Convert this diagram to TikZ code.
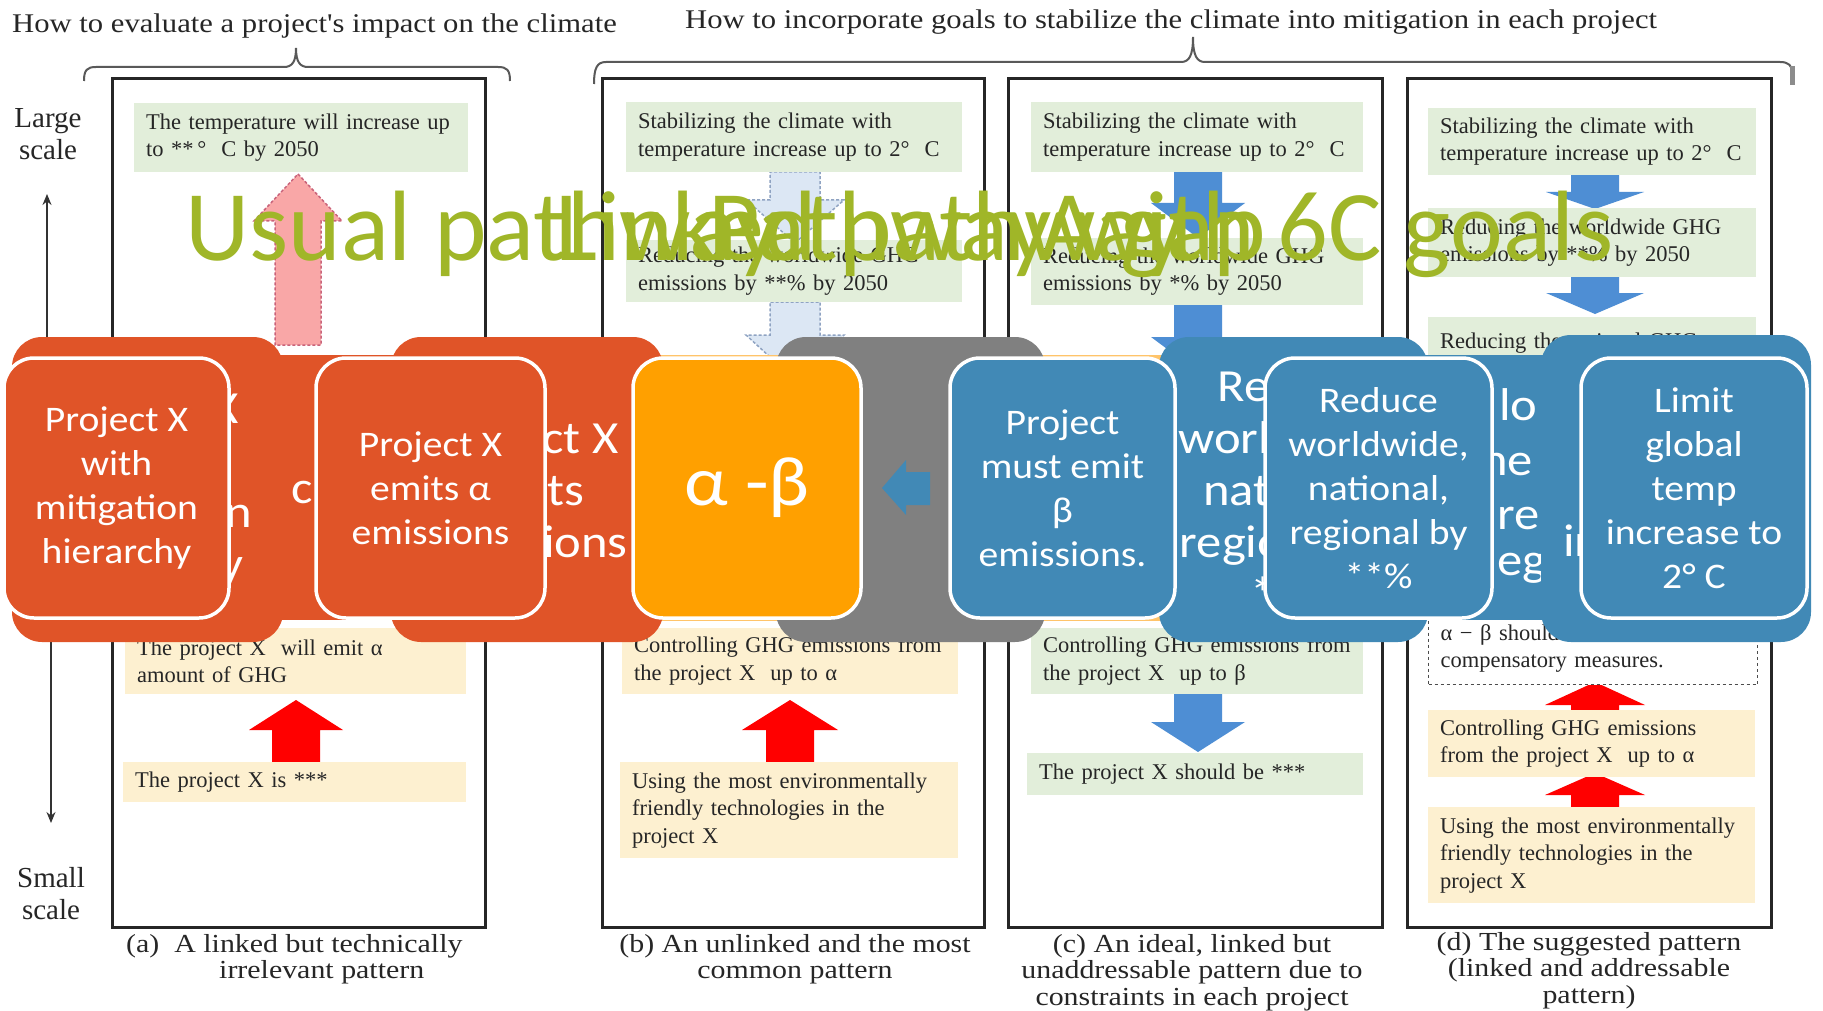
\documentclass[tikz,border=0pt]{standalone}
\usepackage{fontspec}
\setmainfont{Liberation Serif}
\newfontfamily\capfont[FakeStretch=1.15]{Liberation Serif}
\newfontfamily\headfont[FakeStretch=1.135]{Liberation Serif}
\newfontfamily\sa[FakeStretch=1.1]{Carlito}
\newfontfamily\ttlfont{Carlito}
\usetikzlibrary{arrows.meta}

\definecolor{pgreen}{HTML}{E2EEDA}
\definecolor{pyellow}{HTML}{FDF0D0}
\definecolor{sorange}{HTML}{E05428}
\definecolor{samber}{HTML}{FFA000}
\definecolor{sgray}{HTML}{808080}
\definecolor{sblue}{HTML}{4189B6}
\definecolor{ablue}{HTML}{4E8ED4}
\definecolor{ared}{HTML}{FF0000}
\definecolor{apink}{HTML}{F9A7A7}
\definecolor{apinkline}{HTML}{C9637A}
\definecolor{alblue}{HTML}{DCE7F4}
\definecolor{alblueline}{HTML}{8FA3C2}
\definecolor{ttlgreen}{HTML}{A0B628}
\definecolor{inktext}{HTML}{262626}
\definecolor{bandorange}{HTML}{FFC46A}

% block arrow: style, centre x, tip y, head-base y, tail y, half head width, half shaft width
\newcommand{\blkarrow}[7]{%
  \path[#1] (#2,#3) -- ({#2+#6},#4) -- ({#2+#7},#4) -- ({#2+#7},#5)
    -- ({#2-#7},#5) -- ({#2-#7},#4) -- ({#2-#6},#4) -- cycle;}

\begin{document}
\begin{tikzpicture}[x=1pt,y=-1pt,
  panelframe/.style={draw=black!85, line width=3},
  txtbase/.style={anchor=north west, inner xsep=12, inner ysep=0, align=left,
    text=inktext, font=\fontsize{22.5}{27.5}\selectfont},
  gbox/.style={txtbase, fill=pgreen},
  ybox/.style={txtbase, fill=pyellow},
  dbox/.style={txtbase, draw=black!70, dashed, line width=1.3, fill=white},
  smart/.style={rounded corners=30, text=white, align=center, inner sep=0},
  outerbx/.style={smart, font=\sa\fontsize{46}{52}\selectfont},
  innerbx/.style={smart, draw=white, line width=3.5, font=\sa\fontsize{36}{44}\selectfont},
  fragtxt/.style={anchor=west, inner sep=0, text=white, font=\sa\fontsize{46}{52}\selectfont},
  brace/.style={draw=black!65, line width=2},
  axisarrow/.style={-{Stealth[length=11,width=9]}, line width=1.6, draw=black!80},
  titletxt/.style={anchor=base west, inner sep=0, text=ttlgreen,
    font=\ttlfont\fontsize{100}{120}\selectfont},
  caption/.style={anchor=north, align=center, inner sep=0, text=inktext,
    font=\capfont\fontsize{26}{26.5}\selectfont},
  header/.style={anchor=base west, inner sep=0, text=inktext,
    font=\headfont\fontsize{27}{30}\selectfont},
  scalelbl/.style={align=center, inner sep=0, text=inktext,
    font=\fontsize{29}{32}\selectfont},
  redarrow/.style={fill=ared},
  bluearrow/.style={fill=ablue},
  pinkarrow/.style={fill=apink, draw=apinkline, densely dashed, line width=1.5},
  paleblue/.style={fill=alblue, draw=alblueline, densely dashed, line width=1.5}
]
\useasboundingbox[fill=white] (0,0) rectangle (1823,1011);

% ---------- headers and braces ----------
\node[header] (h1) at (12,33) {How to evaluate a project's impact on the climate};
\node[header] (h2) at (685,29) {How to incorporate goals to stabilize the climate into mitigation in each project};
\draw[brace] (84,81) .. controls (84,70) and (87,67) .. (96,67) -- (284,67)
  .. controls (292,67) and (296,62) .. (296,48) .. controls (296,62) and (300,67) .. (308,67)
  -- (498,67) .. controls (507,67) and (510,70) .. (510,81);
\draw[brace] (594,84) .. controls (594,68) and (597,62) .. (606,62) -- (1181,62)
  .. controls (1189,62) and (1193,56) .. (1193,37) .. controls (1193,56) and (1197,62) .. (1205,62)
  -- (1780,62) .. controls (1789,62) and (1792,66) .. (1792,72);
\draw[line width=5, draw=black!45] (1792,66) -- (1792,85);

% ---------- scale axis ----------
\node[scalelbl] (large) at (48,134) {Large\\scale};
\node[scalelbl] (small) at (51,894) {Small\\scale};
\coordinate (upFrom) at (47,340);
\coordinate (upTo) at (47,194);
\coordinate (downFrom) at (51,640);
\coordinate (downTo) at (51,823);
\draw[axisarrow] (upFrom) -- (upTo);
\draw[axisarrow] (downFrom) -- (downTo);

% ---------- panel frames ----------
\draw[panelframe] (112,79) rectangle (485,927);
\draw[panelframe] (602,79) rectangle (984,927);
\draw[panelframe] (1008,79) rectangle (1382,927);
\draw[panelframe] (1407,79) rectangle (1771,927);

% ---------- panel (a) ----------
\blkarrow{pinkarrow}{298}{174}{221}{345}{44}{23}
\blkarrow{redarrow}{296}{700}{730}{762}{47}{24}
\node[gbox, minimum width=334, minimum height=69, text width=310] (a1) at (134,103)
  {The temperature will increase up\\to **\,°\ \ C by 2050};
\node[ybox, minimum width=341, minimum height=66, text width=317] (a2) at (125,628)
  {The project X\ \ will emit α\\amount of GHG};
\node[ybox, minimum width=343, minimum height=40, text width=319] (a3) at (123,762)
  {The project X is ***};

% ---------- panel (b) ----------
\blkarrow{paleblue}{795}{243}{200}{172}{49}{25}
\blkarrow{paleblue}{795}{380}{335}{302}{49}{25}
\blkarrow{redarrow}{790}{700}{730}{762}{48}{24}
\node[gbox, minimum width=336, minimum height=70, text width=312] (b1) at (626,102)
  {Stabilizing the climate with\\temperature increase up to 2°\ \ C};
\node[gbox, minimum width=336, minimum height=62, text width=312] (b2) at (626,240)
  {Reducing the worldwide GHG\\emissions by **\% by 2050};
\node[ybox, minimum width=336, minimum height=66, text width=312] (b3) at (622,628)
  {Controlling GHG emissions from\\the project X\ \ up to α};
\node[ybox, minimum width=338, minimum height=96, text width=314] (b4) at (620,762)
  {Using the most environmentally\\friendly technologies in the\\project X};

% ---------- panel (c) ----------
\blkarrow{bluearrow}{1198}{238}{203}{172}{47}{24}
\blkarrow{bluearrow}{1198}{372}{337}{305}{47}{24}
\blkarrow{bluearrow}{1198}{752}{722}{694}{47}{24}
\node[gbox, minimum width=332, minimum height=70, text width=308] (c1) at (1031,102)
  {Stabilizing the climate with\\temperature increase up to 2°\ \ C};
\node[gbox, minimum width=332, minimum height=67, text width=308] (c2) at (1031,238)
  {Reducing the worldwide GHG\\emissions by *\% by 2050};
\node[gbox, minimum width=332, minimum height=66, text width=308] (c3) at (1031,628)
  {\mbox{Controlling GHG emissions from}\\the project X\ \ up to β};
\node[gbox, minimum width=336, minimum height=42, text width=312] (c4) at (1027,753)
  {The project X should be ***};

% ---------- panel (d) ----------
\blkarrow{bluearrow}{1595}{209}{192}{175}{49}{24}
\blkarrow{bluearrow}{1595}{314}{293}{277}{49}{24}
\blkarrow{redarrow}{1595}{682}{705}{712}{50}{24}
\blkarrow{redarrow}{1595}{773}{795}{809}{50}{24}
\node[gbox, minimum width=328, minimum height=67, text width=304] (d1) at (1428,108)
  {Stabilizing the climate with\\temperature increase up to 2°\ \ C};
\node[gbox, minimum width=328, minimum height=69, text width=304] (d2) at (1428,208)
  {Reducing the worldwide GHG\\emissions by **\% by 2050};
\node[gbox, minimum width=328, minimum height=52, text width=304] (d3) at (1428,317)
  {Reducing the national GHG};
\node[dbox, minimum width=329, minimum height=72, text width=305] (d4) at (1428,612)
  {α − β should be\\compensatory measures.};
\node[ybox, minimum width=327, minimum height=67, text width=303] (d5) at (1428,710)
  {Controlling GHG emissions\\from the project X\ \ up to α};
\node[ybox, minimum width=327, minimum height=96, text width=303] (d6) at (1428,807)
  {Using the most environmentally\\friendly technologies in the\\project X};

% ---------- captions ----------
\node[caption, anchor=north west, align=left] (capa) at (126,934)
  {(a)\ \ A linked but technically\\\hspace*{93pt}irrelevant pattern};
\node[caption] (capb) at (795,934) {(b) An unlinked and the most\\common pattern};
\node[caption] (capc) at (1192,934) {(c) An ideal, linked but\\unaddressable pattern due to\\constraints in each project};
\node[caption] (capd) at (1589,932) {(d) The suggested pattern\\(linked and addressable\\pattern)};

% ---------- process blocks ----------
\fill[bandorange] (640,355) rectangle (1170,621);
\fill[sorange] (255,355) rectangle (400,620);
\fill[sblue] (1420,355) rectangle (1560,620);
\node[fragtxt] (fc) at (291,493) {c};
\node[fragtxt] (flo) at (1499,405) {lo};
\node[fragtxt] (fhe) at (1481,460) {he};
\node[fragtxt] (fre) at (1497,518) {re};
\node[fragtxt] (feg) at (1497,568) {eg};

\node[outerbx, fill=sorange, minimum width=271, minimum height=305] (oo1) at (147.5,489.5)
  {Project X\\with\\mitigation\\hierarchy};
\node[innerbx, fill=sorange, minimum width=225, minimum height=260] (io1) at (116.5,488)
  {Project X\\with\\mitigation\\hierarchy};
\node[outerbx, fill=sorange, minimum width=272, minimum height=305] (oo2) at (527,489.5)
  {Project X\\emits\\emissions};
\node[innerbx, fill=sorange, minimum width=229, minimum height=260] (io2) at (430.5,488)
  {Project X\\emits α\\emissions};
\node[outerbx, fill=sgray, minimum width=269, minimum height=305] (gap) at (910.5,489.5) {};
\path[fill=sblue] (882,488) -- (906,460) -- (906,472) -- (930,472) -- (930,505) -- (906,505) -- (906,515) -- cycle;
\node[innerbx, fill=samber, minimum width=228, minimum height=260,
  font=\sa\fontsize{70}{80}\selectfont] (diff) at (747,488) {α -β};
\node[outerbx, fill=sblue, minimum width=269, minimum height=305] (ob1) at (1293.5,489.5)
  {Reduce\\worldwide,\\national,\\regional by\\**\%};
\node[innerbx, fill=sblue, minimum width=225, minimum height=260] (ib1) at (1062.5,488)
  {Project\\must emit\\β\\emissions.};
\node[innerbx, fill=sblue, minimum width=227, minimum height=260] (ib2) at (1378.5,488)
  {Reduce\\worldwide,\\national,\\regional by\\**\%};
\node[outerbx, fill=sblue, minimum width=270, minimum height=307] (ob3) at (1676,488.5)
  {Limit\\global\\temp\\increase to\\2° C};
\node[innerbx, fill=sblue, minimum width=226, minimum height=260] (ib3) at (1694,488)
  {Limit\\global\\temp\\increase to\\2° C};

% ---------- slide titles ----------
\node[titletxt] (t1) at (185,260) {Usual pathway};
\node[titletxt] (t2) at (555,260) {Linked pathway};
\node[titletxt] (t3) at (708,260) {Pathway with 6C goals};
\node[titletxt] (t4) at (1040,260) {A gap};
\end{tikzpicture}
\end{document}
